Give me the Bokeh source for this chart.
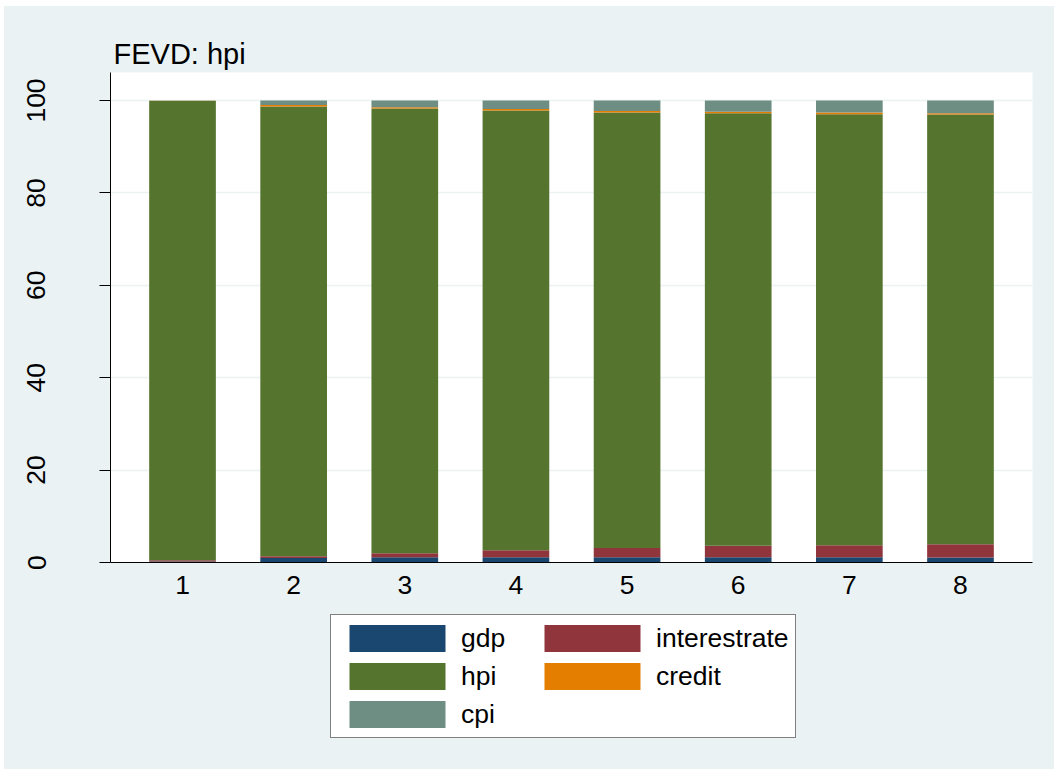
from bokeh.plotting import figure
from bokeh.layouts import column
from bokeh.models import ColumnDataSource, FixedTicker, Legend, LegendItem
from bokeh.embed import file_html
from bokeh.resources import INLINE

# Forecast error variance decomposition of hpi, by horizon (percent)
horizons = [1, 2, 3, 4, 5, 6, 7, 8]
gdp = [0.2, 1.0, 1.15, 1.15, 1.15, 1.15, 1.15, 1.1]
interestrate = [0.3, 0.35, 0.85, 1.5, 2.0, 2.45, 2.6, 2.85]
hpi = [99.4, 97.35, 96.25, 95.2, 94.25, 93.65, 93.3, 93.0]
credit = [0.05, 0.3, 0.3, 0.3, 0.3, 0.3, 0.35, 0.3]
cpi = [0.05, 1.0, 1.45, 1.85, 2.3, 2.45, 2.6, 2.75]

series = ["gdp", "interestrate", "hpi", "credit", "cpi"]
colors = ["#1a476f", "#90353b", "#55752f", "#e37e00", "#6e8e84"]
y_ticks = [0, 20, 40, 60, 80, 100]

FONT = "Liberation Sans"
BG = "#eaf2f3"
LABEL_SIZE = "26.5px"

source = ColumnDataSource(dict(x=horizons, gdp=gdp, interestrate=interestrate,
                               hpi=hpi, credit=credit, cpi=cpi))

# ---- main chart -------------------------------------------------------
p = figure(width=1050, height=604,
           x_range=(0.352, 8.648), y_range=(0, 106.06),
           output_backend="svg", toolbar_location=None,
           min_border_left=106, min_border_right=22, min_border_top=66,
           min_border_bottom=48)

p.border_fill_color = BG
p.background_fill_color = "white"
p.outline_line_color = None

p.vbar_stack(series, x="x", width=0.6, source=source,
             fill_color=colors, line_color=None)

p.title.text = "FEVD: hpi"
p.title.text_font = FONT
p.title.text_font_size = "29px"
p.title.text_font_style = "normal"
p.title.text_color = "black"
p.title.align = "left"
p.title.offset = 3
p.title.standoff = 6

p.xgrid.visible = False
p.ygrid.ticker = FixedTicker(ticks=y_ticks)
p.ygrid.grid_line_color = BG
p.ygrid.grid_line_width = 1.5

ya = p.yaxis[0]
ya.ticker = FixedTicker(ticks=y_ticks)
ya.major_label_orientation = "vertical"
ya.major_label_text_font = FONT
ya.major_label_text_font_size = LABEL_SIZE
ya.major_label_text_color = "black"
ya.major_label_standoff = 54
ya.major_tick_out = 11
ya.major_tick_in = 0
ya.minor_tick_out = 0
ya.minor_tick_in = 0
ya.axis_line_color = "black"
ya.major_tick_line_color = "black"

xa = p.xaxis[0]
xa.ticker = FixedTicker(ticks=horizons)
xa.major_label_text_font = FONT
xa.major_label_text_font_size = LABEL_SIZE
xa.major_label_text_color = "black"
xa.major_label_standoff = 13
xa.major_tick_out = 0
xa.major_tick_in = 0
xa.minor_tick_out = 0
xa.minor_tick_in = 0
xa.axis_line_color = "black"

# ---- legend strip under the chart ---------------------------------------
# the stack is repeated here only so the legend has renderers to show;
# the ranges keep its bars out of view
lg = figure(width=1050, height=159,
            x_range=(100, 101), y_range=(200, 201),
            x_axis_type=None, y_axis_type=None,
            output_backend="svg", toolbar_location=None,
            min_border=0)
lg.border_fill_color = BG
lg.background_fill_color = BG
lg.outline_line_color = None
lg.grid.visible = False

key = lg.vbar_stack(series, x="x", width=0.6, source=source,
                    fill_color=colors, line_color=None)

# area swatches are drawn at 80% of the glyph box, so the box is enlarged
items = [LegendItem(label=name, renderers=[r]) for name, r in zip(series, key)]
legend = Legend(items=items, orientation="horizontal", ncols=2,
                glyph_width=120, glyph_height=34, label_standoff=4,
                label_width=67, label_height=27, spacing=4, padding=6,
                margin=0, location=(220, 31),
                label_text_font=FONT, label_text_font_size=LABEL_SIZE,
                label_text_color="black",
                border_line_color="black", border_line_width=1,
                background_fill_color="white", background_fill_alpha=1.0)
lg.add_layout(legend, "center")

layout = column(p, lg, spacing=0, margin=(6, 0, 0, 4),
                styles={"background-color": BG})

open("out.html", "w").write(file_html(layout, INLINE))
